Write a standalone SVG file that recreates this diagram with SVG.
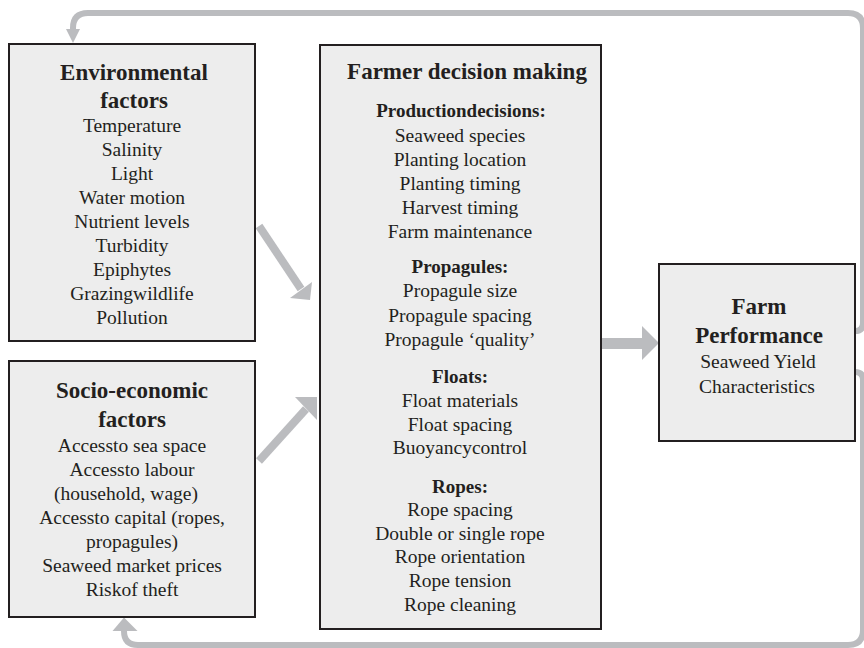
<svg xmlns="http://www.w3.org/2000/svg" width="864" height="648" viewBox="0 0 864 648">
<style>
.box{fill:#ededed;stroke:#231f20;stroke-width:2}
text{font-family:"Liberation Serif","Times New Roman",serif;fill:#231f20;text-anchor:middle}
.t{font-size:23px;font-weight:bold}
.h{font-size:19px;font-weight:bold}
.i{font-size:19.5px}
.c{fill:none;stroke:#bbbcbf;stroke-width:6}
.a{fill:#bbbcbf}
</style>
<rect width="864" height="648" fill="#ffffff"/>
<g id="connectors">
<path class="c" d="M855 331 Q863 331 863 323 V28 Q863 13 848 13 H88 Q73 13 73 28 V31"/>
<polygon class="a" points="66,29 80,29 73,43"/>
<path class="c" d="M855 372 Q863 372 863 380 V630 Q863 645 848 645 H138 Q124 645 124 631 V629"/>
<polygon class="a" points="112.5,631 137.5,631 124,617.5"/>
<path class="c" d="M259 226 L301 289" style="stroke-width:8"/>
<polygon class="a" points="290,298 312,282 310,300"/>
<path class="c" d="M259 461 L306 409" style="stroke-width:8"/>
<polygon class="a" points="295,397 317,420 317,397"/>
<rect class="a" x="601" y="338" width="42" height="11"/>
<polygon class="a" points="642,326 642,360 659,343"/>
</g>
<g id="env">
<rect class="box" x="9" y="44" width="246" height="297"/>
<text class="t" x="134" y="80">Environmental</text>
<text class="t" x="134" y="108">factors</text>
<text class="i" x="132" y="132">Temperature</text>
<text class="i" x="132" y="156">Salinity</text>
<text class="i" x="132" y="180">Light</text>
<text class="i" x="132" y="204">Water motion</text>
<text class="i" x="132" y="228">Nutrient levels</text>
<text class="i" x="132" y="252">Turbidity</text>
<text class="i" x="132" y="276">Epiphytes</text>
<text class="i" x="132" y="300">Grazingwildlife</text>
<text class="i" x="132" y="324">Pollution</text>
</g>
<g id="socio">
<rect class="box" x="9" y="361" width="246" height="256"/>
<text class="t" x="132" y="398">Socio-economic</text>
<text class="t" x="132" y="427">factors</text>
<text class="i" x="132" y="452">Accessto sea space</text>
<text class="i" x="132" y="476">Accessto labour</text>
<text class="i" x="126" y="500">(household, wage)</text>
<text class="i" x="132" y="524">Accessto capital (ropes,</text>
<text class="i" x="132" y="548">propagules)</text>
<text class="i" x="132" y="572">Seaweed market prices</text>
<text class="i" x="132" y="596">Riskof theft</text>
</g>
<g id="farmer">
<rect class="box" x="320" y="45" width="281" height="584"/>
<text class="t" x="467" y="79">Farmer decision making</text>
<text class="h" x="461" y="117">Productiondecisions:</text>
<text class="i" x="460" y="142">Seaweed species</text>
<text class="i" x="460" y="166">Planting location</text>
<text class="i" x="460" y="190">Planting timing</text>
<text class="i" x="460" y="214">Harvest timing</text>
<text class="i" x="460" y="238">Farm maintenance</text>
<text class="h" x="460" y="273">Propagules:</text>
<text class="i" x="460" y="297">Propagule size</text>
<text class="i" x="460" y="322">Propagule spacing</text>
<text class="i" x="460" y="346">Propagule ‘quality’</text>
<text class="h" x="460" y="383">Floats:</text>
<text class="i" x="460" y="407">Float materials</text>
<text class="i" x="460" y="431">Float spacing</text>
<text class="i" x="460" y="454">Buoyancycontrol</text>
<text class="h" x="460" y="493">Ropes:</text>
<text class="i" x="460" y="516">Rope spacing</text>
<text class="i" x="460" y="540">Double or single rope</text>
<text class="i" x="460" y="563">Rope orientation</text>
<text class="i" x="460" y="587">Rope tension</text>
<text class="i" x="460" y="611">Rope cleaning</text>
</g>
<g id="perf">
<rect class="box" x="659" y="264" width="196" height="177"/>
<text class="t" x="759" y="314">Farm</text>
<text class="t" x="759" y="343">Performance</text>
<text class="i" x="758" y="368">Seaweed Yield</text>
<text class="i" x="757" y="393">Characteristics</text>
</g>
</svg>
